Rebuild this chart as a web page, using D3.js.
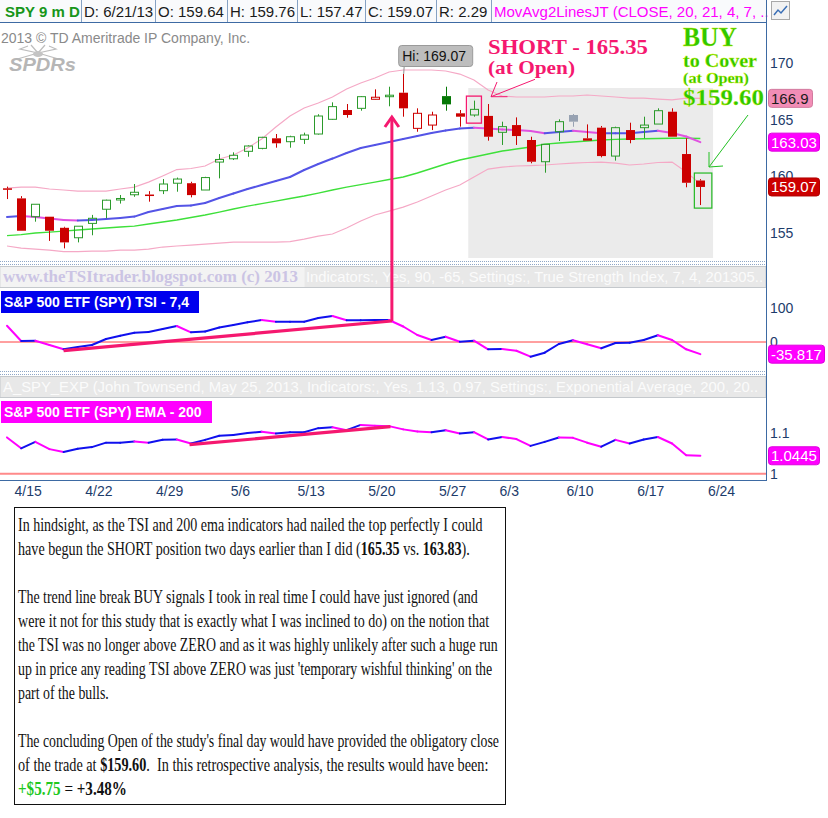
<!DOCTYPE html>
<html lang="en">
<head>
<meta charset="UTF-8">
<title>SPY 9 m D</title>
<script src="https://cdnjs.cloudflare.com/ajax/libs/d3/7.8.5/d3.min.js"></script>
<style>
    html, body { margin: 0; padding: 0; background: #fff; }
    svg { display: block; font-family: Arial, "Liberation Sans", sans-serif; }
    .note { white-space: pre; }
</style>
</head>
<body>
<svg id="chart" width="828" height="818"></svg>

<script>
    // trading days, 4/12 .. 6/21/2013
    const dates = ["4/12", "4/15", "4/16", "4/17", "4/18", "4/19", "4/22", "4/23", "4/24", "4/25", "4/26",
        "4/29", "4/30", "5/1", "5/2", "5/3", "5/6", "5/7", "5/8", "5/9", "5/10", "5/13", "5/14", "5/15", "5/16", "5/17",
        "5/20", "5/21", "5/22", "5/23", "5/24", "5/28", "5/29", "5/30", "5/31", "6/3", "6/4", "6/5", "6/6", "6/7",
        "6/10", "6/11", "6/12", "6/13", "6/14", "6/17", "6/18", "6/19", "6/20", "6/21"];

    const opens = [158.95, 158.06, 156.44, 156.44, 155.46, 154.58, 155.85, 157.10, 157.95, 158.38, 158.40,
        158.74, 159.40, 159.40, 158.80, 161.27, 161.56, 162.22, 162.48, 163.37, 163.07, 163.28, 163.75, 165.05, 165.87, 166.02,
        166.82, 167.10, 167.40, 164.25, 164.54, 167.10, 165.58, 165.43, 165.35, 163.90, 164.54, 163.22, 161.30, 163.95,
        165.43, 163.37, 164.31, 161.80, 164.10, 164.31, 164.63, 165.72, 161.98, 159.64];
    const highs = [159.10, 158.26, 157.54, 156.44, 155.55, 155.60, 156.60, 157.95, 158.36, 159.33, 158.70,
        159.77, 159.90, 159.53, 159.97, 161.98, 162.13, 162.75, 163.50, 163.75, 163.60, 163.87, 165.50, 166.55, 166.40, 167.10,
        167.70, 167.93, 169.07, 166.02, 165.72, 167.93, 165.87, 166.70, 166.40, 164.84, 165.22, 163.51, 162.84, 165.05,
        165.52, 164.60, 164.46, 164.40, 164.75, 165.28, 166.02, 166.02, 163.37, 159.76];
    const lows = [158.00, 155.20, 156.00, 154.30, 153.64, 154.17, 154.80, 156.30, 157.60, 158.20, 157.77,
        158.44, 158.65, 158.15, 158.80, 159.83, 161.45, 161.74, 162.40, 162.54, 162.54, 162.87, 163.70, 165.00, 165.19, 165.81,
        166.80, 166.20, 165.28, 163.95, 164.10, 165.81, 164.40, 165.28, 163.16, 162.78, 162.78, 161.16, 160.33, 163.13,
        164.39, 163.16, 161.69, 161.40, 162.93, 163.37, 164.63, 163.51, 159.04, 157.47];
    const closes = [158.85, 155.20, 157.54, 155.20, 154.17, 155.60, 156.30, 157.90, 158.05, 158.60, 158.30,
        159.33, 159.77, 158.35, 159.90, 161.50, 161.87, 162.69, 163.46, 162.93, 163.51, 163.66, 165.34, 166.17, 165.43, 167.05,
        167.00, 167.18, 166.02, 165.58, 165.43, 166.37, 165.28, 165.93, 163.51, 164.40, 163.57, 161.30, 162.84, 164.84,
        164.84, 163.16, 161.80, 164.31, 163.22, 164.54, 165.81, 163.51, 159.44, 159.07];

    // MovAvg2LinesJT bands and averages
    const upperBand = [158.97, 159.06, 159.06, 158.89, 158.80, 158.71, 158.71, 158.71, 158.89, 159.06, 159.50,
        160.04, 160.61, 160.70, 160.92, 161.54, 161.89, 162.51, 163.31, 164.37, 165.34, 166.05, 166.49, 167.02, 167.73, 168.26,
        168.70, 169.23, 169.41, 169.41, 169.41, 169.32, 169.05, 168.52, 167.64, 167.11, 167.02, 167.02, 167.02, 167.11,
        167.11, 167.20, 167.11, 167.02, 166.93, 166.93, 166.84, 166.76, 166.93, 166.90];
    const lowerBand = [153.85, 153.67, 153.58, 153.49, 153.36, 153.36, 153.40, 153.40, 153.49, 153.49, 153.58,
        153.76, 153.85, 153.93, 154.02, 154.11, 154.20, 154.20, 154.20, 154.20, 154.23, 154.46, 154.73, 154.91, 155.44, 156.06,
        156.59, 156.94, 157.29, 157.74, 158.27, 158.80, 159.24, 159.95, 160.65, 160.83, 160.92, 160.96, 161.01, 161.10,
        161.18, 161.23, 161.27, 161.18, 161.01, 161.10, 161.23, 161.27, 160.39, 159.33];
    const midAvg = [156.41, 156.50, 156.41, 156.28, 156.15, 156.10, 156.15, 156.23, 156.32, 156.45, 156.85,
        157.12, 157.38, 157.43, 157.65, 158.09, 158.49, 158.89, 159.24, 159.59, 159.95, 160.57, 161.10, 161.58, 162.07, 162.51,
        162.78, 163.04, 163.31, 163.57, 163.84, 164.06, 164.24, 164.31, 164.24, 164.15, 164.10, 164.01, 163.81, 163.93,
        164.04, 163.93, 163.81, 163.81, 163.81, 163.93, 164.04, 163.84, 163.53, 163.03];
    const slowAvg = [154.77, 154.86, 155.00, 155.08, 155.17, 155.26, 155.35, 155.44, 155.53, 155.61, 155.79,
        155.97, 156.15, 156.37, 156.59, 156.85, 157.12, 157.38, 157.60, 157.82, 158.05, 158.27, 158.53, 158.80, 159.06, 159.28,
        159.50, 159.73, 159.95, 160.30, 160.70, 161.10, 161.45, 161.72, 161.98, 162.25, 162.42, 162.60, 162.86, 162.95,
        163.04, 163.13, 163.22, 163.28, 163.31, 163.33, 163.35, 163.37, 163.37, 163.35];

    // lower studies
    const tsi = [47.9, 2.9, 3.8, -8.8, -21.5, -14.7, -8.8, 8.8, 18.5, 27.4, 29.4,
        38.2, 47.1, 28.5, 30.9, 42.6, 50.0, 57.9, 64.7, 59.7, 59.7, 59.7, 70.6, 76.5, 63.8, 64.1,
        64.7, 64.7, 45.6, 20.6, 5.9, 15.6, 0.9, 3.8, -21.5, -20.6, -25.6, -43.2, -31.5, -5.9,
        5.0, -6.8, -18.5, -2.9, -2.1, 5.9, 19.7, 5.9, -21.5, -35.817];
    const ema = [1.090, 1.063, 1.079, 1.061, 1.054, 1.062, 1.066, 1.077, 1.077, 1.080, 1.077,
        1.084, 1.085, 1.075, 1.084, 1.094, 1.096, 1.101, 1.104, 1.100, 1.103, 1.103, 1.113, 1.115, 1.108, 1.121,
        1.119, 1.118, 1.110, 1.105, 1.103, 1.108, 1.100, 1.103, 1.085, 1.091, 1.086, 1.069, 1.079, 1.090,
        1.089, 1.077, 1.067, 1.084, 1.075, 1.085, 1.091, 1.075, 1.046, 1.0445];

    // trend lines drawn by hand: [index, value]
    const tsiTrend = [[4, -25.6], [27.2, 61.8]];
    const emaTrend = [[12.9, 1.072], [27.1, 1.1166]];

    const xTickIdx = [1, 6, 11, 16, 21, 26, 31, 35, 40, 45, 50];
    const xTickLabels = ["4/15", "4/22", "4/29", "5/6", "5/13", "5/20", "5/27", "6/3", "6/10", "6/17", "6/24"];
    const priceTicks = [155, 160, 165, 170];
    const tsiTicks = [0, 100];
    const emaTicks = [1, 1.1];

    const n = dates.length;
    const axisX = 766;
    const BLUE = "#1010ee", MAGENTA = "#ff00ff", PINK = "#f5186f", BUYGREEN = "#2ec800";
    const serif = "'Liberation Serif', 'DejaVu Serif', serif";

    const svg = d3.select("#chart");

    const x = d3.scaleLinear().domain([0, 50]).range([7, 714.5]);
    const yP = d3.scaleLinear().domain([155, 170]).range([233, 63.3]);
    const yT = d3.scaleLinear().domain([0, 100]).range([342, 308]);
    const yE = d3.scaleLinear().domain([1, 1.1]).range([473.7, 433.4]);

    // ---------- header bar ----------
    const header = svg.append("g");
    header.append("rect").attr("width", axisX).attr("height", 22).attr("fill", "#f9fafc");
    const cells = [
        {x0: 0, x1: 81, text: "SPY 9 m D", color: "#17961a", bold: true},
        {x0: 81, x1: 155, text: "D: " + dates[n - 1] + "/13"},
        {x0: 155, x1: 227, text: "O: " + opens[n - 1].toFixed(2)},
        {x0: 227, x1: 297, text: "H: " + highs[n - 1].toFixed(2)},
        {x0: 297, x1: 365, text: "L: " + lows[n - 1].toFixed(2)},
        {x0: 365, x1: 436, text: "C: " + closes[n - 1].toFixed(2)},
        {x0: 436, x1: 491, text: "R: 2.29"},
        {x0: 491, x1: axisX, text: "MovAvg2LinesJT (CLOSE, 20, 21, 4, 7, ..", color: MAGENTA}
    ];
    header.selectAll("text").data(cells).enter().append("text")
        .attr("x", d => d.x0 + (d.bold ? 5 : 3))
        .attr("y", 17)
        .attr("font-size", 15)
        .attr("font-weight", d => d.bold ? "bold" : "normal")
        .attr("fill", d => d.color || "#1a1a1a")
        .text(d => d.text);
    header.selectAll("line").data(cells.slice(0, -1)).enter().append("line")
        .attr("x1", d => d.x1 + 0.5).attr("x2", d => d.x1 + 0.5)
        .attr("y1", 0).attr("y2", 22)
        .attr("stroke", "#86a2c4");
    svg.append("line").attr("x1", 0).attr("x2", axisX).attr("y1", 22.5).attr("y2", 22.5)
        .attr("stroke", "#3d6aa3");

    // little study icon at top right
    svg.append("rect").attr("x", 771.5).attr("y", 1.5).attr("width", 18).attr("height", 18)
        .attr("fill", "#f2f2f2").attr("stroke", "#a9a9a9");
    svg.append("path").attr("d", "M774,15 L778,10 L781,13 L787,6")
        .attr("fill", "none").attr("stroke", "#3b6fb6").attr("stroke-width", 1.5);

    // copyright + logo
    svg.append("text").attr("x", 1).attr("y", 43).attr("font-size", 14).attr("fill", "#8a8a8a")
        .text("2013 \u00a9 TD Ameritrade IP Company, Inc.");
    svg.append("path")
        .attr("d", "M38,53 L14,60 M38,53 L20,49 L28,46 M38,53 L31,45 M38,53 L45,45 M38,53 L56,49 L49,46 M38,53 L62,60")
        .attr("fill", "none").attr("stroke", "#bdbdbd").attr("stroke-width", 1.2);
    svg.append("ellipse").attr("cx", 38).attr("cy", 54).attr("rx", 5).attr("ry", 3).attr("fill", "#c4c4c4");
    svg.append("text").attr("x", 9).attr("y", 71).attr("font-size", 18).attr("font-weight", "bold")
        .attr("font-style", "italic").attr("fill", "#b6b6b6")
        .attr("textLength", 67).attr("lengthAdjust", "spacingAndGlyphs").text("SPDRs");

    // ---------- price panel ----------
    const shortZone = {i0: 32.6, i1: 49.9, top: 167.82};
    svg.append("rect")
        .attr("x", x(shortZone.i0)).attr("width", x(shortZone.i1) - x(shortZone.i0))
        .attr("y", yP(shortZone.top)).attr("height", 258 - yP(shortZone.top))
        .attr("fill", "#ebebeb");

    const lineP = d3.line().x((d, i) => x(i)).y(d => yP(d));
    svg.append("path").attr("d", lineP(upperBand)).attr("fill", "none").attr("stroke", "#f5a9c6").attr("stroke-width", 1.2);
    svg.append("path").attr("d", lineP(lowerBand)).attr("fill", "none").attr("stroke", "#f5a9c6").attr("stroke-width", 1.2);
    svg.append("path").attr("d", lineP(slowAvg)).attr("fill", "none").attr("stroke", "#3ee03a").attr("stroke-width", 1.4);

    // line coloured blue while rising, magenta while falling
    function drawUpDown(values, yScale, width, up, down) {
        const pts = values.map((v, i) => [x(i), yScale(v), v]);
        svg.append("g").selectAll("line").data(d3.pairs(pts)).enter().append("line")
            .attr("x1", d => d[0][0]).attr("y1", d => d[0][1])
            .attr("x2", d => d[1][0]).attr("y2", d => d[1][1])
            .attr("stroke", d => d[1][2] >= d[0][2] ? up : down)
            .attr("stroke-width", width)
            .attr("stroke-linecap", "round");
    }
    drawUpDown(midAvg, yP, 2, "#5454e6", "#e052e0");

    // candles
    const candleColor = i => {
        const prev = i ? closes[i - 1] : opens[i];
        if (Math.abs(closes[i] - prev) < 0.005) return "#97a2b2";
        if (closes[i] > prev) return closes[i] < opens[i] ? "#067806" : "#2b9a2b";
        return "#cc0000";
    };
    const cg = svg.append("g").selectAll("g").data(d3.range(n)).enter().append("g");
    cg.each(function (i) {
        const g = d3.select(this);
        const cx = Math.round(x(i)) + 0.5;
        const col = candleColor(i);
        const top = yP(Math.max(opens[i], closes[i]));
        const bot = yP(Math.min(opens[i], closes[i]));
        const filled = closes[i] < opens[i];
        g.append("line").attr("x1", cx).attr("x2", cx).attr("y1", yP(highs[i])).attr("y2", top).attr("stroke", col);
        g.append("line").attr("x1", cx).attr("x2", cx).attr("y1", bot).attr("y2", yP(lows[i])).attr("stroke", col);
        const h = Math.max(1.5, bot - top);
        if (filled) {
            g.append("rect").attr("x", cx - 4.5).attr("y", top).attr("width", 9).attr("height", h).attr("fill", col);
        } else {
            g.append("rect").attr("x", cx - 4).attr("y", top).attr("width", 8).attr("height", h)
                .attr("fill", "none").attr("stroke", col);
        }
    });

    // high marker
    const hiIdx = d3.maxIndex(highs);
    svg.append("line").attr("x1", x(hiIdx) + 1).attr("x2", x(hiIdx) + 0.5).attr("y1", 66).attr("y2", yP(highs[hiIdx]))
        .attr("stroke", "#8f8f8f");
    svg.append("rect").attr("x", x(hiIdx) - 4.5).attr("y", 45.5).attr("width", 74).attr("height", 21).attr("rx", 3)
        .attr("fill", "#bdbdbd").attr("stroke", "#9a9a9a");
    svg.append("text").attr("x", x(hiIdx) - 1).attr("y", 61).attr("font-size", 14).attr("fill", "#111")
        .text("Hi: " + highs[hiIdx].toFixed(2));

    // short / cover boxes
    svg.append("rect").attr("x", x(33) - 7.5).attr("y", yP(167.1)).attr("width", 15)
        .attr("height", yP(164.71) - yP(167.1)).attr("fill", "none").attr("stroke", PINK).attr("stroke-width", 1.3);
    svg.append("rect").attr("x", x(49) - 6).attr("y", yP(160.3)).attr("width", 17.5)
        .attr("height", yP(157.2) - yP(160.3)).attr("fill", "none").attr("stroke", "#23b923").attr("stroke-width", 1.2);

    // SHORT annotation
    svg.append("text").attr("x", 488).attr("y", 54).attr("font-family", serif)
        .attr("font-size", 22).attr("font-weight", "bold").attr("fill", PINK)
        .attr("textLength", 160).attr("lengthAdjust", "spacingAndGlyphs").text("SHORT - 165.35");
    svg.append("text").attr("x", 488).attr("y", 74).attr("font-family", serif)
        .attr("font-size", 18).attr("font-weight", "bold").attr("fill", PINK)
        .attr("textLength", 87).attr("lengthAdjust", "spacingAndGlyphs").text("(at Open)");
    svg.append("path").attr("d", "M497,82 L491,96.7 L535,79.3 M491,96.7 L507.5,96.7")
        .attr("fill", "none").attr("stroke", PINK).attr("stroke-width", 1);

    // BUY annotation
    [["BUY", 46, 27, 54], ["to Cover", 67, 19, 74], ["(at Open)", 83, 15, 66], ["$159.60", 105, 24, 81]]
        .forEach(([t, yy, fs, w]) => {
            svg.append("text").attr("x", 683).attr("y", yy).attr("font-family", serif)
                .attr("font-size", fs).attr("font-weight", "bold").attr("fill", BUYGREEN)
                .attr("stroke", "#d8f000").attr("stroke-width", 0.3)
                .attr("textLength", w).attr("lengthAdjust", "spacingAndGlyphs").text(t);
        });
    svg.append("path").attr("d", "M748,115 L709,167 M709,167 L709,152 M709,167 L723,166")
        .attr("fill", "none").attr("stroke", "#22c022").attr("stroke-width", 1);

    // ---------- strips between panels ----------
    function separator(y0) {
        [y0, y0 + 3].forEach(yy => {
            svg.append("line").attr("x1", 0).attr("x2", axisX).attr("y1", yy + 0.5).attr("y2", yy + 0.5)
                .attr("stroke", "#8ea6c6").attr("stroke-dasharray", "1,1");
        });
    }
    function strip(y0, text, tx, tw) {
        svg.append("rect").attr("x", 0).attr("y", y0).attr("width", axisX).attr("height", 21)
            .attr("fill", "#e8e8e8").attr("stroke", "#c4c8cc");
        svg.append("text").attr("x", tx).attr("y", y0 + 15.5).attr("font-size", 15).attr("fill", "#fbfbfb")
            .attr("textLength", tw).attr("lengthAdjust", "spacingAndGlyphs").text(text);
    }
    separator(261);
    strip(266.5, "Indicators:, Yes, 90, -65, Settings:, True Strength Index, 7, 4, 201305..", 306, 457);
    svg.append("rect").attr("x", 0.5).attr("y", 267).attr("width", 304).attr("height", 20).attr("fill", "#f3f3f3");
    svg.append("text").attr("x", 3).attr("y", 282).attr("font-family", serif).attr("font-size", 16)
        .attr("font-weight", "bold").attr("fill", "#cbc4e4")
        .attr("textLength", 295).attr("lengthAdjust", "spacingAndGlyphs")
        .text("www.theTSItrader.blogspot.com (c) 2013");

    separator(371);
    strip(376.5, "A_SPY_EXP (John Townsend, May 25, 2013, Indicators:, Yes, 1.13, 0.97, Settings:, Exponential Average, 200, 20..", 3, 755);

    // ---------- TSI panel ----------
    svg.append("line").attr("x1", 0).attr("x2", axisX).attr("y1", yT(0)).attr("y2", yT(0))
        .attr("stroke", "#ff4040").attr("stroke-width", 1);
    drawUpDown(tsi, yT, 2, BLUE, MAGENTA);
    svg.append("rect").attr("x", 1).attr("y", 291).attr("width", 198).attr("height", 22).attr("fill", "#0000ee");
    svg.append("text").attr("x", 4).attr("y", 307).attr("font-size", 14).attr("font-weight", "bold").attr("fill", "#fff")
        .text("S&P 500 ETF (SPY) TSI - 7,4");

    // ---------- EMA panel ----------
    svg.append("line").attr("x1", 0).attr("x2", axisX).attr("y1", yE(1)).attr("y2", yE(1))
        .attr("stroke", "#ff8a8a").attr("stroke-width", 2);
    drawUpDown(ema, yE, 2, BLUE, MAGENTA);
    svg.append("rect").attr("x", 1).attr("y", 401).attr("width", 211).attr("height", 22).attr("fill", MAGENTA);
    svg.append("text").attr("x", 4).attr("y", 417).attr("font-size", 14).attr("font-weight", "bold").attr("fill", "#fff")
        .text("S&P 500 ETF (SPY) EMA - 200");

    // trend lines + arrow
    const trend = (pts, yScale) => d3.line().x(d => x(d[0])).y(d => yScale(d[1]))(pts);
    svg.append("path").attr("d", trend(tsiTrend, yT)).attr("stroke", PINK).attr("stroke-width", 3.2).attr("fill", "none");
    svg.append("path").attr("d", trend(emaTrend, yE)).attr("stroke", PINK).attr("stroke-width", 3.2).attr("fill", "none");
    const ax = x(tsiTrend[1][0]);
    svg.append("line").attr("x1", ax).attr("x2", ax).attr("y1", yT(tsiTrend[1][1])).attr("y2", 117)
        .attr("stroke", PINK).attr("stroke-width", 3);
    svg.append("path").attr("d", `M${ax - 7},127 L${ax},117 L${ax + 7},127`)
        .attr("fill", "none").attr("stroke", PINK).attr("stroke-width", 3);

    // ---------- axes ----------
    svg.append("line").attr("x1", 0).attr("x2", axisX).attr("y1", 480.5).attr("y2", 480.5).attr("stroke", "#3d6aa3");
    svg.append("line").attr("x1", axisX + 0.5).attr("x2", axisX + 0.5).attr("y1", 0).attr("y2", 481).attr("stroke", "#3d6aa3");

    function styleAxis(g) {
        g.select(".domain").remove();
        g.selectAll("line").remove();
        g.selectAll("text").attr("font-size", 14).attr("font-family", "Arial, 'Liberation Sans', sans-serif").attr("fill", "#1d3c6b");
    }
    svg.append("g").attr("transform", `translate(${axisX},0)`)
        .call(d3.axisRight(yP).tickValues(priceTicks).tickSize(0).tickPadding(4)).call(styleAxis);
    svg.append("g").attr("transform", `translate(${axisX},0)`)
        .call(d3.axisRight(yT).tickValues(tsiTicks).tickSize(0).tickPadding(4)).call(styleAxis);
    svg.append("g").attr("transform", `translate(${axisX},0)`)
        .call(d3.axisRight(yE).tickValues(emaTicks).tickSize(0).tickPadding(4).tickFormat(d3.format("~g"))).call(styleAxis);
    svg.append("g").attr("transform", "translate(6.5,483)")
        .call(d3.axisBottom(x).tickValues(xTickIdx).tickFormat((d, i) => xTickLabels[i]).tickSize(0).tickPadding(3))
        .call(styleAxis);

    // last-value tags
    const tags = [
        {v: upperBand[n - 1], y: yP, text: "166.9", bg: "#f28db6", fg: "#1a1a1a", w: 44},
        {v: midAvg[n - 1], y: yP, text: "163.03", bg: MAGENTA, fg: "#fff", w: 51},
        {v: closes[n - 1], y: yP, text: "159.07", bg: "#cc0000", fg: "#fff", w: 51},
        {v: tsi[n - 1], y: yT, text: "-35.817", bg: MAGENTA, fg: "#fff", w: 56},
        {v: ema[n - 1], y: yE, text: "1.0445", bg: MAGENTA, fg: "#fff", w: 51}
    ];
    tags.forEach(t => {
        const cy = t.y(t.v);
        svg.append("rect").attr("x", 768.5).attr("y", cy - 9).attr("width", t.w).attr("height", 18).attr("rx", 3)
            .attr("fill", t.bg).attr("stroke", d3.color(t.bg).darker(0.4));
        svg.append("text").attr("x", 771).attr("y", cy + 5.5).attr("font-size", 15).attr("fill", t.fg).text(t.text);
    });

    // ---------- comment box ----------
    svg.append("rect").attr("x", 14.5).attr("y", 507.5).attr("width", 491).attr("height", 297)
        .attr("fill", "#fff").attr("stroke", "#111");
    const noteLines = [
        [["In hindsight, as the TSI and 200 ema indicators had nailed the top perfectly I could"]],
        [["have begun the SHORT position two days earlier than I did ("], ["165.35", "b"], [" vs. "], ["163.83", "b"], [")."]],
        [],
        [["The trend line break BUY signals I took in real time I could have just ignored (and"]],
        [["were it not for this study that is exactly what I was inclined to do) on the notion that"]],
        [["the TSI was no longer above ZERO and as it was highly unlikely after such a huge run"]],
        [["up in price any reading TSI above ZERO was just 'temporary wishful thinking' on the"]],
        [["part of the bulls."]],
        [],
        [["The concluding Open of the study's final day would have provided the obligatory close"]],
        [["of the trade at "], ["$159.60", "b"], [".  In this retrospective analysis, the results would have been:"]],
        [["+$5.75", "g"], [" = "], ["+3.48%", "b"]]
    ];
    const noteWidths = [465, 452, 0, 460, 472, 480, 475, 91, 0, 481, 471, 109];
    noteLines.forEach((segs, k) => {
        if (!segs.length) return;
        // condensed look: draw at natural width, then squeeze horizontally
        const t = svg.append("text").attr("class", "note")
            .attr("x", 0).attr("y", 0)
            .attr("font-family", serif).attr("font-size", 19).attr("fill", "#111");
        segs.forEach(([s, st]) => {
            t.append("tspan")
                .attr("font-weight", st ? "bold" : "normal")
                .attr("fill", st === "g" ? "#22c81e" : "#111")
                .text(s);
        });
        const natural = t.node().getComputedTextLength();
        t.attr("transform", `translate(18,${531 + 24 * k}) scale(${noteWidths[k] / natural},1)`);
    });
</script>
</body>
</html>
